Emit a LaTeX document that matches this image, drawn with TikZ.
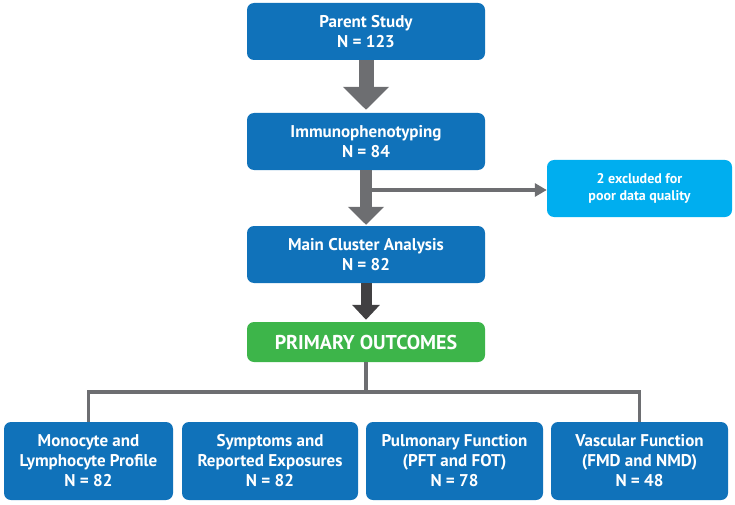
\documentclass[tikz,border=0pt]{standalone}
\usepackage{fontspec}
\setsansfont{PT Sans}
\usepackage{tikz}
\usetikzlibrary{arrows.meta, positioning, calc}
\usepackage{xcolor}
\definecolor{boxblue}{HTML}{1072BA}
\definecolor{skyblue}{HTML}{00AEEF}
\definecolor{outgreen}{HTML}{3DB54A}
\definecolor{arrowgray}{HTML}{6D6E71}
\definecolor{darkgray}{HTML}{414042}

\begin{document}
\begin{tikzpicture}[x=1pt, y=-1pt,
    mainbox/.style={rectangle, rounded corners=7pt, fill=boxblue, text=white, align=center,
        minimum width=238pt, minimum height=57pt, inner sep=0pt,
        font=\sffamily\bfseries\fontsize{17}{20}\selectfont},
    outbox/.style={mainbox, minimum width=177pt, minimum height=78pt},
    bigarrow/.style={draw=arrowgray, line width=15pt, -{Triangle[length=23pt, width=45pt]}, shorten >=3pt},
    treeline/.style={draw=arrowgray, line width=3.5pt}]
    \useasboundingbox (0,0) rectangle (735,505);

    \node[mainbox] (parent) at (366,31.5) {Parent Study\\N = 123};
    \node[mainbox] (immuno) at (366,141.5) {Immunophenotyping\\N = 84};
    \node[mainbox] (cluster) at (366,254.5) {Main Cluster Analysis\\N = 82};
    \node[mainbox, fill=outgreen, minimum height=40pt, font=\sffamily\bfseries\fontsize{20}{22}\selectfont] (primary) at (366,342) {PRIMARY OUTCOMES};
    \node[mainbox, fill=skyblue, minimum width=185pt, font=\sffamily\bfseries\fontsize{14}{17}\selectfont] (excl) at (639.5,188.5) {2 excluded for\\poor data quality};

    \node[outbox, minimum width=169pt] (mono) at (88.5,461) {Monocyte and\\Lymphocyte Profile\\N = 82};
    \node[outbox, minimum width=176pt] (sympt) at (270,461) {Symptoms and\\Reported Exposures\\N = 82};
    \node[outbox] (pulm) at (454.5,461) {Pulmonary Function\\(PFT and FOT)\\N = 78};
    \node[outbox] (vasc) at (639.5,461) {Vascular Function\\(FMD and NMD)\\N = 48};

    \draw[bigarrow] (parent.south) -- (immuno.north);
    \draw[bigarrow, line width=12pt, -{Triangle[length=18pt, width=35pt]}, shorten >=1pt] (immuno.south) -- (cluster.north);
    \draw[draw=arrowgray, line width=3.5pt, -{Triangle[length=12pt, width=13pt]}] ($(immuno.south |- excl.west)+(0,1.5)$) -- ($(excl.west)+(0,1.5)$);
    \draw[bigarrow, draw=darkgray, line width=11pt, -{Triangle[length=15pt, width=27pt]}, shorten >=2pt] (cluster.south) -- (primary.north);

    \coordinate (hub) at (366,392);
    \draw[treeline] (primary.south) -- (hub);
    \draw[treeline] (mono.north) |- (hub) -| (vasc.north);
\end{tikzpicture}
\end{document}
